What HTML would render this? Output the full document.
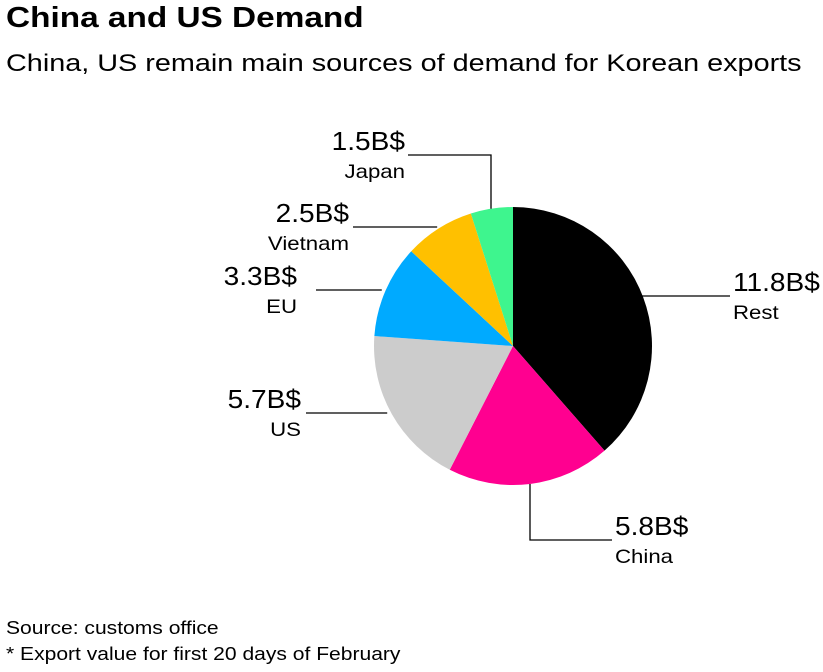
<!DOCTYPE html>
<html><head><meta charset="utf-8"><style>
body{margin:0;background:#fff;font-family:"Liberation Sans",sans-serif;}
#wrap{position:relative;width:823px;height:672px;overflow:hidden;}
.t{position:absolute;left:6px;top:2px;font-size:29px;font-weight:bold;color:#000;transform:scaleX(1.15);transform-origin:0 0;white-space:nowrap}
.s{position:absolute;left:6px;top:50px;font-size:24px;color:#000;transform:scaleX(1.2);transform-origin:0 0;white-space:nowrap}
.f{position:absolute;left:6px;font-size:18px;color:#000;transform:scaleX(1.17);transform-origin:0 0;white-space:nowrap}
</style></head><body>
<div id="wrap">
<div class="t">China and US Demand</div>
<div class="s">China, US remain main sources of demand for Korean exports</div>
<svg id="pie" width="823" height="672" style="position:absolute;left:0;top:0"></svg>
<div class="f" style="top:618px">Source: customs office</div>
<div class="f" style="top:644px">* Export value for first 20 days of February</div>
</div>
<script>
const categories=["Rest","China","US","EU","Vietnam","Japan"];
const values=[11.8,5.8,5.7,3.3,2.5,1.5];
const valueLabels=["11.8B$","5.8B$","5.7B$","3.3B$","2.5B$","1.5B$"];
const colors=["#000000","#ff0090","#cccccc","#00aaff","#ffc000","#3ef58e"];
// label layout: [lineEndX, lineEndY, textX, anchor, elbowX(optional)]
const layout=[
 [730,296,733,"start"],
 [612,540,615,"start",530],
 [306,413,301,"end"],
 [316,290,297,"end"],
 [353,227,349,"end"],
 [408,155,405,"end",491]
];
const NS="http://www.w3.org/2000/svg";
const svg=document.getElementById('pie');
const cx=513,cy=346,r=139;
const total=values.reduce((a,b)=>a+b,0);
function pt(a,rr){return [cx+rr*Math.sin(a),cy-rr*Math.cos(a)];}
let acc=0;
values.forEach((v,i)=>{
 const a0=acc/total*2*Math.PI; acc+=v; const a1=acc/total*2*Math.PI;
 const p0=pt(a0,r),p1=pt(a1,r);
 const large=(a1-a0)>Math.PI?1:0;
 const path=document.createElementNS(NS,'path');
 path.setAttribute('d',`M${cx},${cy}L${p0[0]},${p0[1]}A${r},${r} 0 ${large} 1 ${p1[0]},${p1[1]}Z`);
 path.setAttribute('fill',colors[i]);
 
 
 svg.appendChild(path);
});
acc=0;
values.forEach((v,i)=>{
 acc+=v;
 const L=layout[i]; let pts;
 if(L[4]!==undefined){
   const ex=L[4]; const dx=ex-cx; const dy=Math.sqrt(Math.max(0,r*r-dx*dx));
   const ey=L[1]>cy?cy+dy:cy-dy;
   pts=`${ex},${ey} ${ex},${L[1]} ${L[0]},${L[1]}`;
 } else {
   const y=L[1]; const dy=y-cy; const dx=Math.sqrt(Math.max(0,r*r-dy*dy));
   const sx=L[0]>cx?cx+dx-4:cx-dx-4;
   pts=`${sx},${y} ${L[0]},${y}`;
 }
 const pl=document.createElementNS(NS,'polyline');
 pl.setAttribute('points',pts);pl.setAttribute('fill','none');pl.setAttribute('stroke','#000');pl.setAttribute('stroke-width','1.3');
 
 
 svg.appendChild(pl);
 const tv=document.createElementNS(NS,'text');
 tv.setAttribute('transform',`translate(${L[2]},${L[1]-5}) scale(1.08,1)`);
 tv.setAttribute('text-anchor',L[3]);
 tv.setAttribute('font-size','26');tv.setAttribute('font-family','Liberation Sans, sans-serif');
 tv.textContent=valueLabels[i];
 
 
 svg.appendChild(tv);
 const tn=document.createElementNS(NS,'text');
 tn.setAttribute('transform',`translate(${L[2]},${L[1]+23}) scale(1.17,1)`);
 tn.setAttribute('text-anchor',L[3]);
 tn.setAttribute('font-size','19');tn.setAttribute('font-family','Liberation Sans, sans-serif');
 tn.textContent=categories[i];
 
 
 svg.appendChild(tn);
});
</script>
</body></html>
